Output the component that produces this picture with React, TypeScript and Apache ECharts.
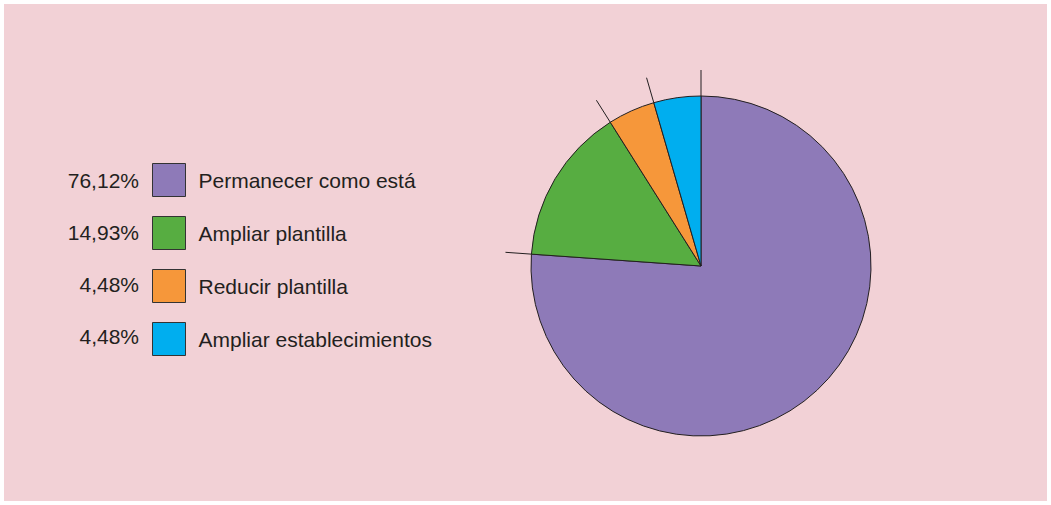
import React, { useEffect, useRef } from "react";
import * as echarts from "echarts";

const categories = ["Permanecer como está", "Ampliar plantilla", "Reducir plantilla", "Ampliar establecimientos"];
const values = [76.12, 14.93, 4.48, 4.48];
const percentLabels = ["76,12%", "14,93%", "4,48%", "4,48%"];
const colors = ["#8e7ab8", "#57ad41", "#f6973a", "#00aeef"];

export default function App() {
  const ref = useRef<HTMLDivElement>(null);
  useEffect(() => {
    if (!ref.current) return;
    const chart = echarts.init(ref.current, null, { renderer: "svg" });
    const cx = 701, cy = 266, r = 170, rOut = 196;
    const total = values.reduce((a, b) => a + b, 0);
    const ticks: any[] = [];
    let cum = 0;
    for (let i = 0; i < values.length; i++) {
      const th = (cum / total) * Math.PI * 2;
      ticks.push({
        type: "line",
        z: 10,
        shape: {
          x1: cx + r * Math.sin(th), y1: cy - r * Math.cos(th),
          x2: cx + rOut * Math.sin(th), y2: cy - rOut * Math.cos(th),
        },
        style: { stroke: "#231f20", lineWidth: 1 },
      });
      cum += values[i];
    }
    const pct = percentLabels.map((t, i) => ({
      type: "text",
      x: 139,
      y: 163 + i * 52 + 17,
      style: {
        text: t,
        align: "right",
        verticalAlign: "middle",
        fontSize: 21,
        fontFamily: "Liberation Sans, Arial, sans-serif",
        fill: "#231f20",
      },
    }));
    chart.setOption({
      animation: false,
      backgroundColor: "transparent",
      legend: {
        orient: "vertical",
        left: 152,
        top: 163,
        padding: 0,
        itemWidth: 33,
        itemHeight: 33,
        itemGap: 19,
        icon: "rect",
        selectedMode: false,
        data: categories,
        itemStyle: { borderColor: "#333", borderWidth: 1 },
        textStyle: {
          fontSize: 21,
          fontFamily: "Liberation Sans, Arial, sans-serif",
          color: "#231f20",
          padding: [0, 0, 0, 8],
        },
      },
      graphic: [...ticks, ...pct],
      series: [
        {
          type: "pie",
          center: [cx, cy],
          radius: [0, r],
          startAngle: 90,
          clockwise: true,
          label: { show: false },
          labelLine: { show: false },
          silent: true,
          itemStyle: { borderColor: "#231f20", borderWidth: 1 },
          data: categories.map((c, i) => ({ name: c, value: values[i], itemStyle: { color: colors[i] } })),
        },
      ],
    });
    return () => chart.dispose();
  }, []);
  return (
    <div style={{ position: "absolute", left: 0, top: 0, width: 1051, height: 505, background: "#ffffff" }}>
      <div style={{ position: "absolute", left: 4, top: 4, width: 1043, height: 497, background: "#f2d1d6" }} />
      <div ref={ref} style={{ position: "absolute", left: 0, top: 0, width: 1051, height: 505 }} />
    </div>
  );
}
